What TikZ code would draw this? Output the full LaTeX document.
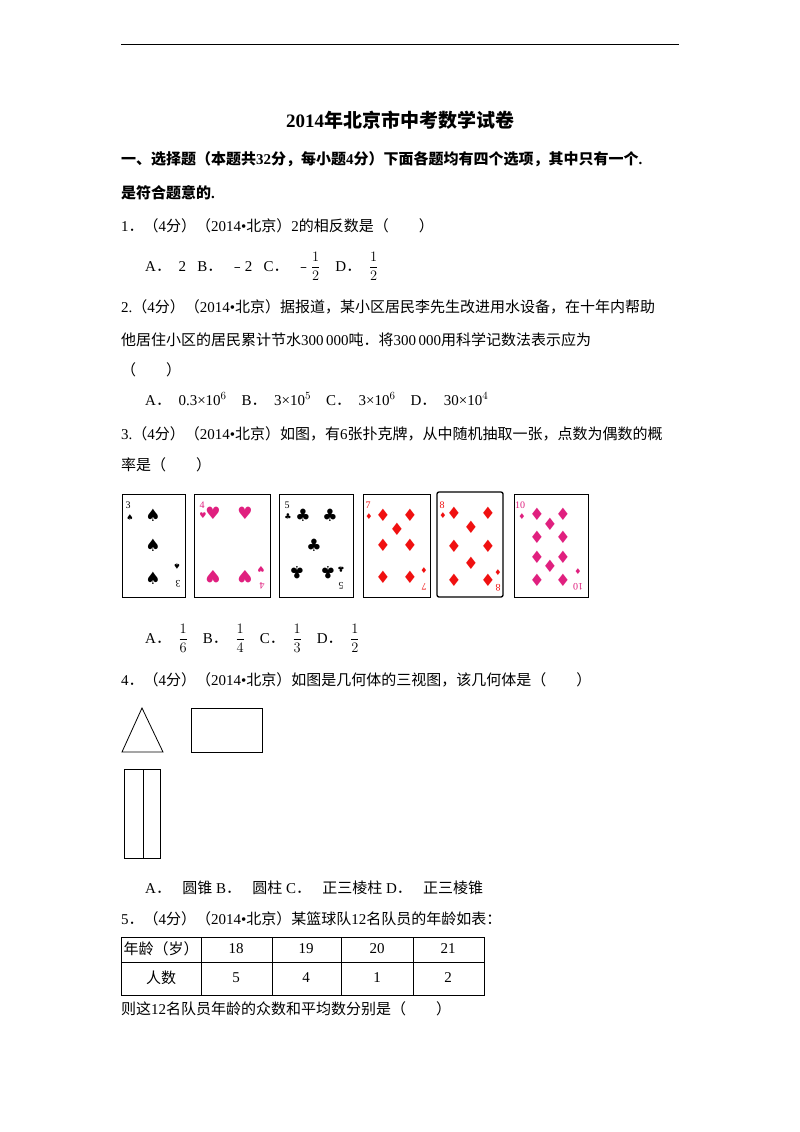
\documentclass[tikz,border=0pt]{standalone}
\usepackage{fontspec}
\setmainfont{Liberation Serif}
\newfontfamily\cjk{Noto Sans CJK SC}
\newfontfamily\djfont{DejaVu Sans}
\newcommand\zh[1]{{\cjk #1}}
\newcommand\fr[2]{$\displaystyle\frac{#1}{#2}$}
\definecolor{pinkc}{HTML}{E0207F}
\definecolor{redc}{HTML}{F01010}
\begin{document}
\begin{tikzpicture}[x=1pt,y=-1pt,
  txt/.style={anchor=base west,inner sep=0pt,font=\fontsize{15}{18}\selectfont},
  card/.style={draw,line width=0.8pt},
  pip/.style={inner sep=0pt,font=\djfont\fontsize{17}{17}\selectfont},
  spip/.style={inner sep=0pt,font=\djfont\fontsize{8}{8}\selectfont},
  cnum/.style={inner sep=0pt,font=\fontsize{10}{10}\selectfont}]
\useasboundingbox (0,0) rectangle (800,1132);
\fill[white] (0,0) rectangle (800,1132);
\draw[line width=1pt] (121,45) -- (679,45);
\node[inner sep=0pt,font=\fontsize{19}{22}\selectfont\bfseries] (title) at (400,120) {2014{\cjk\bfseries 年北京市中考数学试卷}};
\node[txt,font=\fontsize{15}{18}\selectfont\bfseries] (h1) at (121,164) {{\cjk\bfseries 一、选择题（本题共}32{\cjk\bfseries 分，每小题}4{\cjk\bfseries 分）下面各题均有四个选项，其中只有一个}.};
\node[txt,font=\fontsize{15}{18}\selectfont\bfseries] (h2) at (121,198) {{\cjk\bfseries 是符合题意的}.};
\node[txt] (q1) at (121,231) {1\zh{．（}4\zh{分）（}2014•\zh{北京）}2\zh{的相反数是（　　）}};
\node[txt] (o1) at (145,271) {A\zh{．}\ \ 2\ \ \ B\zh{．}\ \ \zh{﹣}2\ \ \ C\zh{．}\ \ \zh{﹣}\fr{1}{2}\ \ \ \ D\zh{．}\ \ \fr{1}{2}};
\node[txt] (q2a) at (121,312) {2.\zh{（}4\zh{分）（}2014•\zh{北京）据报道，某小区居民李先生改进用水设备，在十年内帮助}};
\node[txt] (q2b) at (121,345) {\zh{他居住小区的居民累计节水}300\,000\zh{吨．将}300\,000\zh{用科学记数法表示应为}};
\node[txt] (q2c) at (121,375) {\zh{（　　）}};
\node[txt] (o2) at (145,405) {A\zh{．}\ \ 0.3×10$^{6}$\ \ \ \ B\zh{．}\ \ 3×10$^{5}$\ \ \ \ C\zh{．}\ \ 3×10$^{6}$\ \ \ \ D\zh{．}\ \ 30×10$^{4}$};
\node[txt] (q3a) at (121,439) {3.\zh{（}4\zh{分）（}2014•\zh{北京）如图，有}6\zh{张扑克牌，从中随机抽取一张，点数为偶数的概}};
\node[txt] (q3b) at (121,470) {\zh{率是（　　）}};
% cards
\draw[card] (122,494) rectangle (185,597);
\draw[card] (194,494) rectangle (270,597);
\draw[card] (279,494) rectangle (353,597);
\draw[card] (363,494) rectangle (430,597);
\draw[card,line width=1.3pt,rounded corners=2pt] (437,492) rectangle (503,597);
\draw[card] (514,494) rectangle (588,597);
% card 1
\node[cnum] (c1n) at (128,505) {3};
\node[spip] (c1s) at (130,518) {♠};
\foreach \y in {515,545,578} \node[pip] at (153,\y) {♠};
\node[spip,rotate=180] at (177,566) {♠};
\node[cnum,rotate=180] at (178,584) {3};
% card 2
\node[cnum,pinkc] at (202,505) {4};
\node[spip,pinkc] at (203,516) {♥};
\foreach \p in {(213,513),(245,513)} \node[pip,pinkc] at \p {♥};
\foreach \p in {(213,577),(245,577)} \node[pip,pinkc,rotate=180] at \p {♥};
\node[spip,pinkc,rotate=180] at (261,569) {♥};
\node[cnum,pinkc,rotate=180] at (262,586) {4};
% card 3
\node[cnum] at (287,505) {5};
\node[spip] at (288,517) {♣};
\foreach \p in {(303,515),(330,515),(314,545)} \node[pip] at \p {♣};
\foreach \p in {(297,573),(328,573)} \node[pip,rotate=180] at \p {♣};
\node[spip,rotate=180] at (341,569) {♣};
\node[cnum,rotate=180] at (341,586) {5};
% card 4
\node[cnum,redc] at (368,505) {7};
\node[spip,redc] at (369,517) {♦};
\foreach \p in {(383,515),(410,515),(397,529),(383,545),(410,545),(383,577),(410,577)} \node[pip,redc] at \p {♦};
\node[spip,redc] at (424,571) {♦};
\node[cnum,redc,rotate=180] at (424,587) {7};
% card 5
\node[cnum,redc] at (442,505) {8};
\node[spip,redc] at (443,516) {♦};
\foreach \p in {(454,513),(488,513),(471,527),(454,546),(488,546),(471,563),(454,580),(488,580)} \node[pip,redc] at \p {♦};
\node[spip,redc] at (498,573) {♦};
\node[cnum,redc,rotate=180] at (498,588) {8};
% card 6
\node[cnum,pinkc] at (520,505) {10};
\node[spip,pinkc] at (522,517) {♦};
\foreach \p in {(537,514),(563,514),(550,524),(537,537),(563,537),(537,557),(563,557),(550,566),(537,580),(563,580)} \node[pip,pinkc] at \p {♦};
\node[spip,pinkc] at (578,572) {♦};
\node[cnum,pinkc,rotate=180] at (578,587) {10};
\node[txt] (o3) at (145,643) {A\zh{．}\ \ \fr{1}{6}\ \ \ \ B\zh{．}\ \ \fr{1}{4}\ \ \ \ C\zh{．}\ \ \fr{1}{3}\ \ \ \ D\zh{．}\ \ \fr{1}{2}};
\node[txt] (q4) at (121,685) {4\zh{．（}4\zh{分）（}2014•\zh{北京）如图是几何体的三视图，该几何体是（　　）}};
\draw[line width=0.8pt] (142,708) -- (122,752) -- (163,752) -- cycle;
\draw[line width=0.8pt] (191,708) rectangle (262,752);
\draw[line width=0.8pt] (124,769) rectangle (160,858);
\draw[line width=0.8pt] (143,769) -- (143,858);
\node[txt] (o4) at (145,893) {A\zh{．}\ \ \ \zh{圆锥}\ B\zh{．}\ \ \ \zh{圆柱}\ C\zh{．}\ \ \ \zh{正三棱柱}\ D\zh{．}\ \ \ \zh{正三棱锥}};
\node[txt] (q5) at (121,924) {5\zh{．（}4\zh{分）（}2014•\zh{北京）某篮球队}12\zh{名队员的年龄如表：}};
\draw[line width=0.8pt] (121,937) rectangle (484,995);
\draw[line width=0.8pt] (121,962) -- (484,962);
\foreach \x in {201,272,341,413} \draw[line width=0.8pt] (\x,937) -- (\x,995);
\node[inner sep=0pt,font=\fontsize{15}{18}\selectfont] (t1) at (161,949) {\zh{年龄（岁）}};
\node[inner sep=0pt,font=\fontsize{15}{18}\selectfont] (t2) at (236,949) {18};
\node[inner sep=0pt,font=\fontsize{15}{18}\selectfont] (t3) at (306,949) {19};
\node[inner sep=0pt,font=\fontsize{15}{18}\selectfont] (t4) at (377,949) {20};
\node[inner sep=0pt,font=\fontsize{15}{18}\selectfont] (t5) at (448,949) {21};
\node[inner sep=0pt,font=\fontsize{15}{18}\selectfont] (t6) at (161,978) {\zh{人数}};
\node[inner sep=0pt,font=\fontsize{15}{18}\selectfont] (t7) at (236,978) {5};
\node[inner sep=0pt,font=\fontsize{15}{18}\selectfont] (t8) at (306,978) {4};
\node[inner sep=0pt,font=\fontsize{15}{18}\selectfont] (t9) at (377,978) {1};
\node[inner sep=0pt,font=\fontsize{15}{18}\selectfont] (t10) at (448,978) {2};
\node[txt] (q5b) at (121,1014) {\zh{则这}12\zh{名队员年龄的众数和平均数分别是（　　）}};
\end{tikzpicture}
\end{document}
